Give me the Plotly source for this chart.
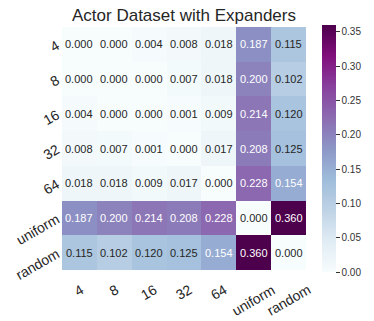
import plotly.graph_objects as go

labels = ["4", "8", "16", "32", "64", "uniform", "random"]

row_4 = [0.000, 0.000, 0.004, 0.008, 0.018, 0.187, 0.115]
row_8 = [0.000, 0.000, 0.000, 0.007, 0.018, 0.200, 0.102]
row_16 = [0.004, 0.000, 0.000, 0.001, 0.009, 0.214, 0.120]
row_32 = [0.008, 0.007, 0.001, 0.000, 0.017, 0.208, 0.125]
row_64 = [0.018, 0.018, 0.009, 0.017, 0.000, 0.228, 0.154]
row_uniform = [0.187, 0.200, 0.214, 0.208, 0.228, 0.000, 0.360]
row_random = [0.115, 0.102, 0.120, 0.125, 0.154, 0.360, 0.000]

z = [row_4, row_8, row_16, row_32, row_64, row_uniform, row_random]
idx = list(range(len(labels)))

font = "Liberation Sans, Arial, sans-serif"

fig = go.Figure(go.Heatmap(
    z=z, x=idx, y=idx,
    colorscale="BuPu", zmin=0, zmax=0.36,
    colorbar=dict(
        thickness=14, len=247, lenmode="pixels",
        x=1.0645, xanchor="left", y=1.008, yanchor="top", xpad=0, ypad=0,
        outlinewidth=0, ticks="outside", ticklen=4, tickcolor="#333",
        tickvals=[0, 0.05, 0.1, 0.15, 0.2, 0.25, 0.3, 0.35],
        tickformat=".2f", tickfont=dict(size=10, color="#333", family=font),
    ),
))

# cell values, white text on the darker cells
for i, row in enumerate(z):
    for j, v in enumerate(row):
        fig.add_annotation(
            x=j, y=i, text=f"{v:.3f}", showarrow=False,
            font=dict(size=11, family=font, color="white" if v > 0.15 else "#262626"),
        )

# rotated x labels hanging centred under each column
for j, lab in enumerate(labels):
    fig.add_annotation(
        x=j, y=-0.035, yref="paper", yanchor="top", text=lab, showarrow=False,
        textangle=-30, font=dict(size=14, family=font, color="#262626"),
    )

fig.update_xaxes(range=[-0.5, 6.5], showticklabels=False, showgrid=False, zeroline=False,
                 automargin=False)
fig.update_yaxes(range=[6.5, -0.5], tickvals=idx, ticktext=labels, tickangle=-30,
                 showgrid=False, zeroline=False, ticks="", automargin=False,
                 tickfont=dict(size=14, family=font, color="#262626"), ticklabelstandoff=4)

# page body adds an 8px offset, so the figure is drawn 8px smaller
fig.update_layout(
    width=366, height=313,
    margin=dict(l=54, r=64, t=19, b=51),
    paper_bgcolor="white", plot_bgcolor="white",
    title=dict(text="Actor Dataset with Expanders", x=0.5, xref="paper",
               y=0.978, yref="container", yanchor="middle",
               font=dict(size=17, family=font, color="#262626")),
)

fig.write_html("out.html")
